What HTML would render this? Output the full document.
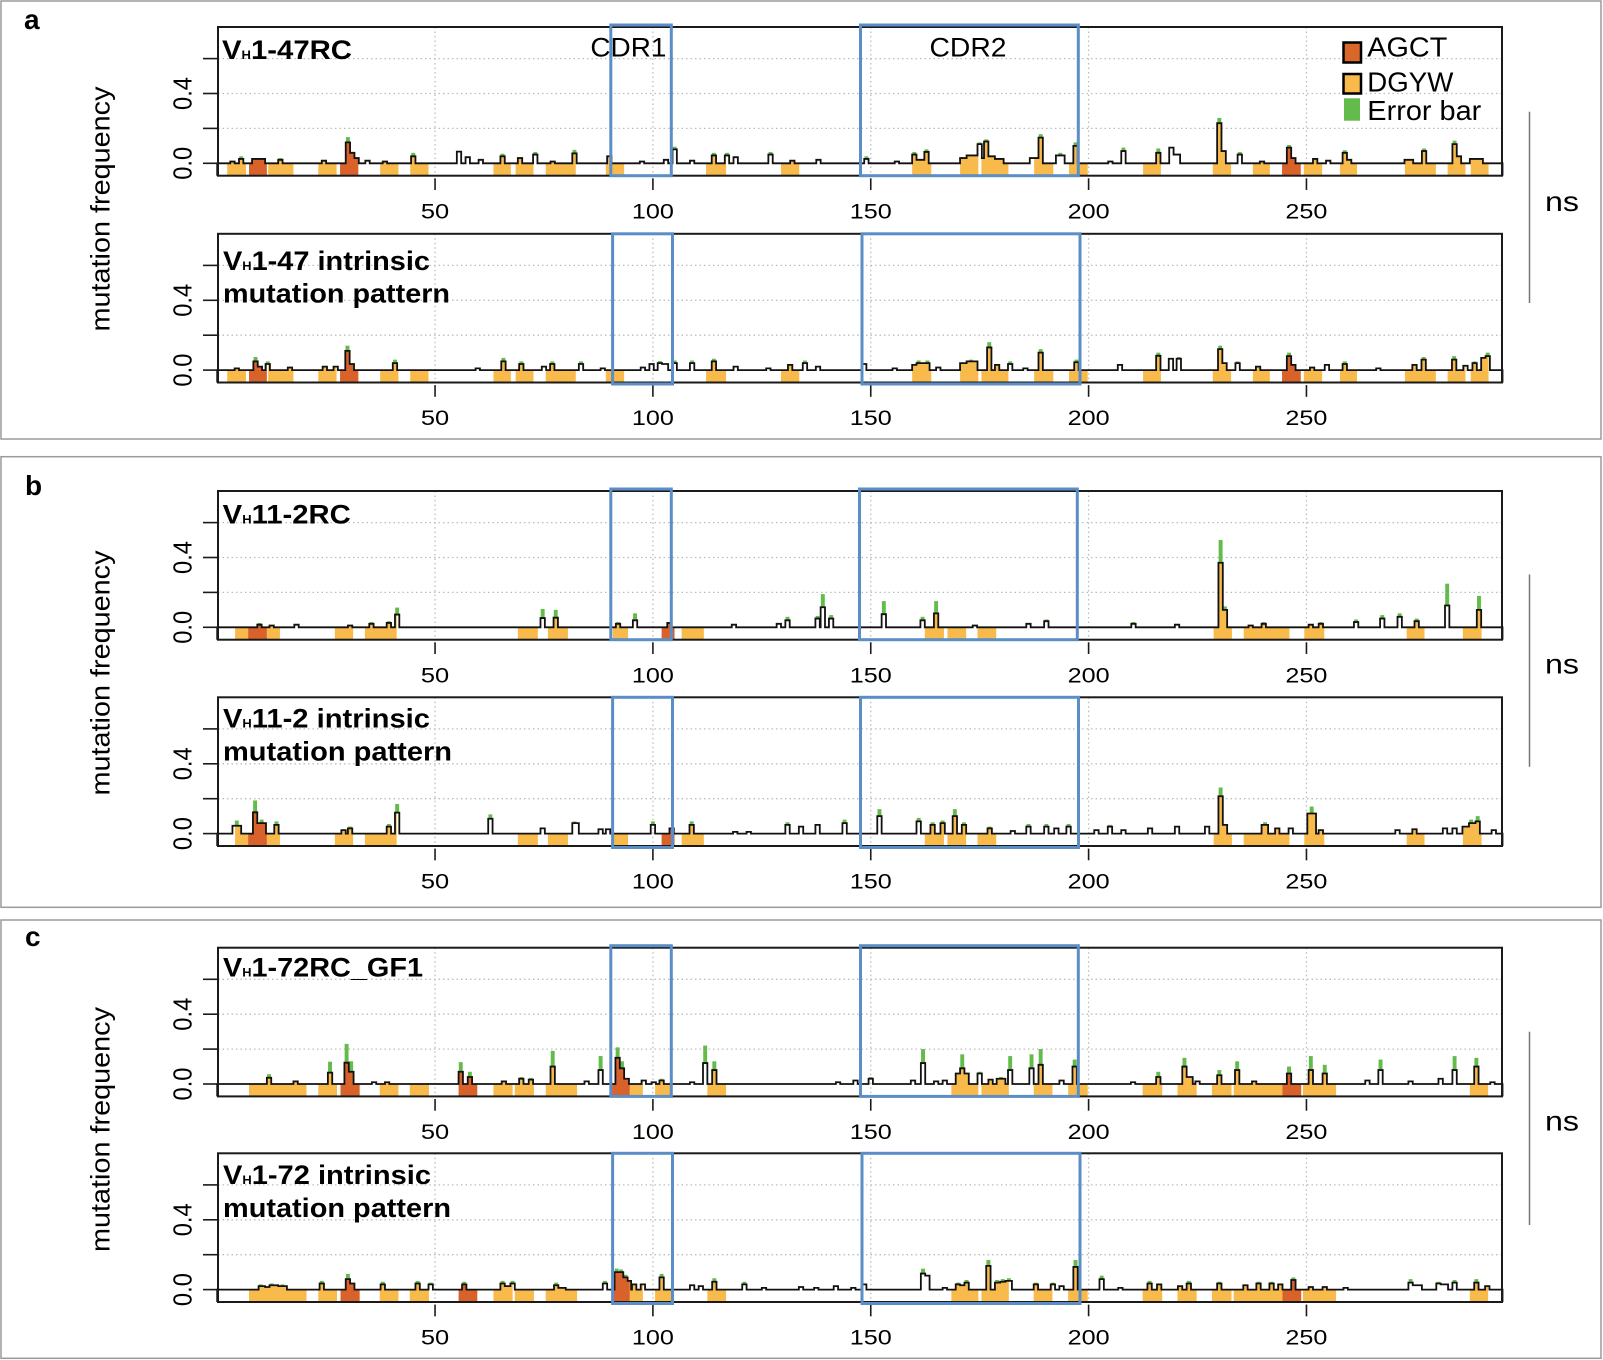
<!DOCTYPE html>
<html>
<head>
<meta charset="utf-8">
<style>
html,body{margin:0;padding:0;background:#fff;}
svg{display:block;}
text{font-family:"Liberation Sans",Arial,Helvetica,sans-serif;fill:#000;}
.tl{font-size:21.5px;}
.yl{font-size:26px;}
.tt{font-size:27px;font-weight:bold;}
.sub{font-size:12px;font-weight:bold;}
.pl{font-size:28px;font-weight:bold;}
.lg{font-size:28px;}
</style>
</head>
<body>
<svg width="1603" height="1360" viewBox="0 0 1603 1360" xmlns="http://www.w3.org/2000/svg">
<defs>
  <g id="grid" stroke="#bdbdbd" stroke-width="1.3" stroke-dasharray="1.5 3" fill="none">
    <line x1="435.05" y1="0" x2="435.05" y2="148.7"/>
    <line x1="652.9" y1="0" x2="652.9" y2="148.7"/>
    <line x1="870.75" y1="0" x2="870.75" y2="148.7"/>
    <line x1="1088.6" y1="0" x2="1088.6" y2="148.7"/>
    <line x1="1306.45" y1="0" x2="1306.45" y2="148.7"/>
    <line x1="218" y1="101.4" x2="1502" y2="101.4"/>
    <line x1="218" y1="66.5" x2="1502" y2="66.5"/>
    <line x1="218" y1="31.6" x2="1502" y2="31.6"/>
  </g>
  <g id="frame" fill="none" stroke="#1a1a1a">
    <rect x="218" y="0" width="1284" height="148.7" stroke-width="2"/>
    <g stroke-width="1.6">
      <line x1="203" y1="136.3" x2="218" y2="136.3"/>
      <line x1="203" y1="101.4" x2="218" y2="101.4"/>
      <line x1="203" y1="66.5" x2="218" y2="66.5"/>
      <line x1="203" y1="31.6" x2="218" y2="31.6"/>
      <line x1="435.05" y1="151.3" x2="435.05" y2="163"/>
      <line x1="652.9" y1="151.3" x2="652.9" y2="163"/>
      <line x1="870.75" y1="151.3" x2="870.75" y2="163"/>
      <line x1="1088.6" y1="151.3" x2="1088.6" y2="163"/>
      <line x1="1306.45" y1="151.3" x2="1306.45" y2="163"/>
    </g>
  </g>

  <clipPath id="cYa">
    <rect x="2.3" y="-0.08" width="4.3" height="1"/><rect x="11.7" y="-0.08" width="5.8" height="1"/>
    <rect x="23.2" y="-0.08" width="4.2" height="1"/><rect x="37.4" y="-0.08" width="4.2" height="1"/>
    <rect x="44.3" y="-0.08" width="4.2" height="1"/><rect x="63.4" y="-0.08" width="4" height="1"/>
    <rect x="68.5" y="-0.08" width="4.1" height="1"/><rect x="75.4" y="-0.08" width="6.9" height="1"/>
    <rect x="89.2" y="-0.08" width="4.2" height="1"/><rect x="112.2" y="-0.08" width="4.6" height="1"/>
    <rect x="129.4" y="-0.08" width="4.2" height="1"/><rect x="159.5" y="-0.08" width="4.4" height="1"/>
    <rect x="170.5" y="-0.08" width="4.2" height="1"/><rect x="175.4" y="-0.08" width="6.2" height="1"/>
    <rect x="187.5" y="-0.08" width="4.4" height="1"/><rect x="195.5" y="-0.08" width="4.3" height="1"/>
    <rect x="212.5" y="-0.08" width="4.1" height="1"/><rect x="228.5" y="-0.08" width="4.2" height="1"/>
    <rect x="237.7" y="-0.08" width="3.9" height="1"/><rect x="249.4" y="-0.08" width="4.2" height="1"/>
    <rect x="257.7" y="-0.08" width="3.9" height="1"/><rect x="272.6" y="-0.08" width="7.1" height="1"/>
    <rect x="282.4" y="-0.08" width="4.1" height="1"/><rect x="287.7" y="-0.08" width="4.1" height="1"/>
  </clipPath>
  <clipPath id="cOa">
    <rect x="7.3" y="-0.08" width="4.1" height="1"/><rect x="28.2" y="-0.08" width="4.2" height="1"/>
    <rect x="244.4" y="-0.08" width="4.3" height="1"/>
  </clipPath>
  <clipPath id="cYb">
    <rect x="4.1" y="-0.08" width="3" height="1"/><rect x="11.4" y="-0.08" width="3" height="1"/>
    <rect x="27" y="-0.08" width="4.2" height="1"/><rect x="33.9" y="-0.08" width="7.3" height="1"/>
    <rect x="69" y="-0.08" width="4.6" height="1"/><rect x="75.9" y="-0.08" width="4.6" height="1"/>
    <rect x="90.8" y="-0.08" width="3.5" height="1"/><rect x="106.6" y="-0.08" width="5.1" height="1"/>
    <rect x="162.4" y="-0.08" width="4.4" height="1"/><rect x="167.6" y="-0.08" width="4.3" height="1"/>
    <rect x="174.5" y="-0.08" width="4.3" height="1"/><rect x="228.7" y="-0.08" width="4.2" height="1"/>
    <rect x="235.6" y="-0.08" width="10.5" height="1"/><rect x="249.5" y="-0.08" width="4.6" height="1"/>
    <rect x="273" y="-0.08" width="4.1" height="1"/><rect x="285.9" y="-0.08" width="4.3" height="1"/>
  </clipPath>
  <clipPath id="cOb">
    <rect x="7.1" y="-0.08" width="4.3" height="1"/><rect x="102" y="-0.08" width="3" height="1"/>
  </clipPath>
  <clipPath id="cYc">
    <rect x="7.3" y="-0.08" width="13.2" height="1"/><rect x="23.2" y="-0.08" width="4.3" height="1"/>
    <rect x="37.3" y="-0.08" width="4.3" height="1"/><rect x="44.2" y="-0.08" width="4.4" height="1"/>
    <rect x="63.4" y="-0.08" width="4.4" height="1"/><rect x="68.3" y="-0.08" width="4.4" height="1"/>
    <rect x="75.4" y="-0.08" width="7.2" height="1"/><rect x="94.7" y="-0.08" width="3" height="1"/>
    <rect x="100.5" y="-0.08" width="3.7" height="1"/><rect x="112.5" y="-0.08" width="4.3" height="1"/>
    <rect x="168.5" y="-0.08" width="6.2" height="1"/><rect x="175.4" y="-0.08" width="6.3" height="1"/>
    <rect x="187.4" y="-0.08" width="4.3" height="1"/><rect x="195.3" y="-0.08" width="4.5" height="1"/>
    <rect x="212.4" y="-0.08" width="4.5" height="1"/><rect x="220.4" y="-0.08" width="4.4" height="1"/>
    <rect x="228.3" y="-0.08" width="4.5" height="1"/><rect x="233.3" y="-0.08" width="11.2" height="1"/>
    <rect x="249.2" y="-0.08" width="7.6" height="1"/><rect x="287.5" y="-0.08" width="4.2" height="1"/>
  </clipPath>
  <clipPath id="cOc">
    <rect x="28.3" y="-0.08" width="4.4" height="1"/><rect x="55.4" y="-0.08" width="4.3" height="1"/>
    <rect x="90.5" y="-0.08" width="4.2" height="1"/><rect x="244.5" y="-0.08" width="4.3" height="1"/>
  </clipPath>

  <path id="pA1" vector-effect="non-scaling-stroke" d="M0 -.0711 V0 H3 V.01 H4 V0 H5 V.025 H6 V0 H8 V.025 H11 V0 H14 V.02 H15 V0 H24 V.015 H25 V0 H29.5 V.12 H30.5 V.06 H31.5 V.03 H32.5 V0 H34 V.015 H35 V0 H38 V.01 H39 V0 H44.5 V.04 H45.5 V0 H55 V.067 H56 V0 H57 V.035 H58 V0 H60 V.02 H61 V0 H65 V.04 H66 V0 H69 V.03 H70 V0 H72.5 V.05 H73.5 V0 H76.5 V.01 H77.5 V0 H81.5 V.057 H82.5 V0 H89.5 V.04 H90.5 V0 H97 V.01 H98 V0 H102.5 V.02 H103.5 V0 H104.5 V.08 H105.5 V0 H108.5 V.015 H109.5 V0 H113.5 V.045 H114.5 V0 H116.5 V.045 H117.5 V0 H118.5 V.035 H119.5 V0 H126.5 V.05 H127.5 V0 H131.5 V.015 H132.5 V0 H137.5 V.02 H138.5 V0 H148.5 V.025 H149.5 V0 H155.5 V.01 H156.5 V0 H159.5 V.05 H160.5 V.02 H162.3 V.065 H163.3 V0 H170.5 V.03 H172 V.045 H174.5 V.11 H175.5 V.03 H176 V.125 H177 V.04 H178.5 V.025 H180.5 V0 H186.5 V.03 H188.5 V.147 H189.5 V0 H192.5 V.045 H194.5 V0 H196.5 V.1 H197.5 V0 H204.5 V.01 H205.5 V0 H207.5 V.07 H208.5 V0 H215.5 V.06 H216.5 V0 H218.5 V.09 H219.5 V.05 H221 V0 H229.5 V.23 H230.5 V.07 H231.5 V0 H234.2 V.05 H235.2 V0 H239.3 V.01 H240.3 V0 H245.5 V.09 H246.5 V.03 H247.5 V0 H251.5 V.025 H252.5 V0 H254.5 V.015 H255.5 V0 H258.3 V.06 H259.3 V.02 H260.3 V0 H272.5 V.02 H274.5 V0 H276.5 V.07 H277.5 V0 H283.5 V.11 H284.5 V.04 H285.5 V0 H287.5 V.025 H290.5 V0 H295 V-.0711"/>
  <path id="pA2" vector-effect="non-scaling-stroke" d="M0 -.0711 V0 H4 V.01 H5 V0 H8.3 V.05 H9.3 V.02 H10.3 V0 H11.1 V.035 H12.1 V0 H16.2 V.015 H17.2 V0 H24.2 V.02 H25.2 V0 H26.7 V.02 H27.7 V0 H29.4 V.11 H30.4 V.035 H31.4 V0 H40.3 V.04 H41.3 V0 H59.3 V.01 H60.3 V0 H65.2 V.05 H66.2 V0 H69.3 V.035 H70.3 V0 H74.5 V.02 H75.5 V0 H76.4 V.035 H77.4 V0 H83 V.035 H84 V0 H88 V.01 H89 V0 H97.2 V.015 H98.2 V0 H99.2 V.035 H100.2 V0 H101.1 V.04 H102.1 V.035 H103.5 V0 H104.5 V.04 H105.5 V0 H108.5 V.04 H109.5 V0 H113.5 V.05 H114.5 V0 H118.5 V.02 H119.5 V0 H126 V.01 H127 V0 H131 V.03 H132 V0 H134.4 V.04 H135.4 V0 H137.4 V.02 H138.4 V0 H148 V.035 H149 V0 H155 V.01 H156 V0 H159.5 V.03 H160.5 V.04 H163.5 V0 H165 V.015 H166 V0 H170.5 V.04 H172 V.05 H174.5 V0 H176.7 V.13 H177.7 V0 H178.5 V.03 H179.5 V0 H181.5 V.035 H182.5 V0 H185 V.01 H186 V0 H188.5 V.1 H189.5 V0 H196.7 V.045 H197.7 V0 H206.7 V.03 H207.7 V0 H215.5 V.082 H216.5 V0 H218.4 V.065 H219.4 V0 H220.2 V.065 H221.2 V0 H229.7 V.12 H230.7 V.04 H231.7 V0 H233.7 V.04 H234.7 V0 H238.4 V.02 H239.4 V0 H245.5 V.08 H246.5 V.03 H247.5 V0 H250.8 V.015 H251.8 V0 H254.2 V.03 H255.2 V0 H258.3 V.035 H259.3 V0 H266 V.01 H267 V0 H274.3 V.03 H275.3 V0 H276.4 V.06 H277.4 V0 H283.4 V.06 H284.4 V0 H286 V.025 H287 V0 H288.1 V.04 H289.1 V0 H290.1 V.07 H291.1 V.08 H292.1 V0 H295 V-.0711"/>
  <path id="pB1" vector-effect="non-scaling-stroke" d="M0 -.0711 V0 H9.2 V.015 H10.2 V0 H12 V.01 H13 V0 H17.7 V.015 H18.7 V0 H30 V.01 H31 V0 H34.9 V.02 H35.9 V0 H38.9 V.025 H39.9 V0 H40.8 V.073 H41.8 V0 H74.2 V.053 H75.2 V0 H77.2 V.055 H78.2 V0 H91.5 V.02 H92.5 V0 H95.4 V.04 H96.4 V0 H103.3 V.025 H104.3 V0 H118.1 V.015 H119.1 V0 H128.4 V.02 H129.4 V0 H130.4 V.04 H131.4 V0 H137.3 V.05 H138.3 V0 H138.5 V.115 H139.5 V0 H140.4 V.05 H141.4 V0 H152.5 V.075 H153.5 V0 H161.4 V.04 H162.4 V0 H164.5 V.08 H165.5 V0 H173.4 V.01 H174.4 V0 H185.7 V.02 H186.7 V0 H189.8 V.035 H190.8 V0 H209.8 V.02 H210.8 V0 H219.8 V.015 H220.8 V0 H229.8 V.37 H230.8 V.1 H231.8 V0 H236.7 V.01 H237.7 V0 H239.7 V.02 H240.7 V0 H250.5 V.015 H251.5 V0 H252.8 V.02 H253.8 V0 H260.9 V.03 H261.9 V0 H266.9 V.05 H267.9 V0 H270.9 V.06 H271.9 V0 H274.8 V.035 H275.8 V0 H281.8 V.125 H282.8 V0 H289.1 V.1 H290.1 V0 H295 V-.0711"/>
  <path id="pB2" vector-effect="non-scaling-stroke" d="M0 -.0711 V0 H3.5 V.045 H5.5 V0 H8.2 V.122 H9.2 V.06 H11.2 V0 H13.1 V.05 H14.1 V0 H28.5 V.02 H29.5 V0 H30 V.03 H31 V0 H38.9 V.04 H39.9 V0 H40.8 V.12 H41.8 V0 H62.2 V.085 H63.2 V0 H74.2 V.03 H75.2 V0 H81.5 V.06 H83 V0 H87.5 V.025 H88.5 V0 H89.2 V.025 H90.2 V0 H99.5 V.05 H100.5 V0 H103.8 V.03 H104.8 V0 H108.4 V.05 H109.4 V0 H118.4 V.01 H119.4 V0 H121.5 V.01 H122.5 V0 H130.4 V.05 H131.4 V0 H133.5 V.04 H134.5 V0 H137.3 V.05 H138.3 V0 H143.5 V.06 H144.5 V0 H151.5 V.1 H152.5 V0 H160.5 V.07 H161.5 V0 H163.7 V.05 H164.7 V0 H166 V.06 H167 V0 H168.8 V.1 H169.8 V0 H170.9 V.05 H171.9 V0 H176.8 V.03 H177.8 V0 H182.1 V.015 H183.1 V0 H185.7 V.04 H186.7 V0 H189.8 V.04 H190.8 V0 H192.1 V.03 H193.1 V0 H194.9 V.04 H195.9 V0 H201.3 V.02 H202.3 V0 H204.4 V.04 H205.4 V0 H207.5 V.02 H208.5 V0 H213.6 V.03 H214.6 V0 H219.8 V.04 H220.8 V0 H226.7 V.04 H227.7 V0 H229.8 V.214 H230.8 V.05 H231.8 V0 H239.7 V.05 H241.2 V0 H242.8 V.03 H243.8 V0 H245.9 V.03 H246.9 V0 H250.2 V.115 H252.2 V0 H252.8 V.02 H253.8 V0 H270.4 V.02 H271.4 V0 H274.3 V.025 H275.3 V0 H281.3 V.03 H282.3 V0 H283.5 V.03 H284.5 V0 H285.8 V.04 H287.3 V.06 H288.8 V.07 H289.8 V0 H292.5 V.02 H293.5 V0 H295 V-.0711"/>
  <path id="pC1" vector-effect="non-scaling-stroke" d="M0 -.0711 V0 H11.4 V.036 H12.4 V0 H17.5 V.015 H18.5 V0 H25.4 V.065 H26.4 V0 H29.2 V.122 H30.2 V.07 H31.3 V0 H35.5 V.01 H36.5 V0 H38.5 V.01 H39.5 V0 H55.4 V.07 H56.4 V0 H57.5 V.04 H58.5 V0 H65.3 V.015 H66.3 V0 H69.3 V.03 H70.3 V0 H71.5 V.025 H72.5 V0 H76.5 V.1 H77.5 V0 H84.3 V.015 H85.3 V0 H87.5 V.08 H88.5 V0 H91.4 V.15 H92.4 V.09 H93.4 V.03 H94.5 V0 H97.4 V.02 H98.4 V0 H99.7 V.01 H100.7 V0 H101.5 V.02 H102.5 V0 H108.5 V.01 H109.5 V0 H111.5 V.12 H112.5 V0 H113.6 V.08 H114.6 V0 H142 V.01 H143 V0 H146 V.02 H147 V0 H149.5 V.03 H150.5 V0 H159.2 V.02 H160.2 V0 H161.5 V.12 H162.5 V0 H164.5 V.015 H165.5 V0 H166.5 V.02 H167.5 V0 H169.5 V.06 H170.5 V.09 H171.5 V.06 H172.5 V0 H174.5 V.06 H175.5 V0 H177 V.025 H178 V0 H178.9 V.03 H180.9 V0 H181.5 V.08 H182.5 V0 H186.4 V.09 H187.4 V0 H188.5 V.11 H189.5 V0 H193.3 V.02 H194.3 V0 H196.3 V.1 H197.3 V0 H209.7 V.01 H210.7 V0 H215.5 V.04 H216.5 V0 H221.5 V.1 H222.5 V.04 H223.9 V0 H224.5 V.015 H225.5 V0 H229.5 V.05 H230.5 V0 H233.6 V.08 H234.6 V0 H237.5 V.015 H238.5 V0 H245.5 V.06 H246.5 V0 H250.5 V.08 H251.5 V0 H253.7 V.06 H254.7 V0 H263.5 V.02 H264.5 V0 H266.5 V.08 H267.5 V0 H273.4 V.015 H274.4 V0 H280.3 V.03 H281.3 V0 H283.5 V.08 H284.5 V0 H288.5 V.1 H289.5 V0 H292.2 V.01 H293.2 V0 H295 V-.0711"/>
  <path id="pC2" vector-effect="non-scaling-stroke" d="M0 -.0711 V0 H9.5 V.02 H11 V.015 H12 V.025 H14 V.02 H16 V0 H23.5 V.035 H24.5 V0 H29.5 V.06 H30.5 V.035 H31.5 V0 H37.5 V.03 H38.5 V0 H45.5 V.035 H46.5 V0 H48.5 V.03 H49.5 V0 H56.2 V.03 H57.2 V0 H65 V.035 H66 V.02 H67.3 V.035 H68.3 V0 H77.3 V.025 H78.3 V.01 H80 V0 H88.5 V.035 H89.5 V0 H91.2 V.1 H93.2 V.07 H94.2 V.05 H95 V0 H95.2 V.03 H96.2 V0 H97.2 V.03 H98.2 V0 H101.5 V.07 H102.5 V0 H108.5 V.025 H109.5 V0 H110.5 V.02 H111.5 V0 H113.6 V.045 H114.6 V0 H120.5 V.03 H121.5 V0 H125 V.01 H126 V0 H133.5 V.015 H134.5 V0 H137 V.01 H138 V0 H141.5 V.02 H142.5 V0 H145.5 V.01 H146.5 V0 H148 V.03 H149 V0 H161.5 V.092 H162.5 V.08 H163.5 V0 H166.5 V.01 H167.5 V0 H169.5 V.03 H170.5 V.025 H171.5 V.04 H172.5 V0 H176.5 V.136 H177.5 V0 H178.5 V.04 H179.7 V.045 H180.9 V.05 H182.4 V0 H187.4 V.03 H188.4 V0 H191.3 V.03 H192.3 V0 H193.3 V.02 H194.3 V0 H196.5 V.13 H197.5 V0 H202.5 V.06 H203.5 V0 H206.8 V.01 H207.8 V0 H213.5 V.035 H214.5 V0 H215.7 V.03 H216.7 V0 H220.5 V.02 H221.5 V0 H222.5 V.035 H223.5 V0 H229.5 V.035 H230.5 V0 H235.5 V.025 H236.5 V0 H238.5 V.035 H239.5 V0 H241.5 V.035 H242.5 V0 H243.5 V.03 H244.5 V0 H246.5 V.055 H247.5 V0 H250.5 V.015 H251.5 V0 H253.7 V.015 H254.7 V0 H258.5 V.01 H259.5 V0 H273.4 V.04 H274.4 V.025 H276.5 V0 H279.8 V.035 H280.8 V.03 H282.5 V0 H283.5 V.04 H284.5 V0 H288.5 V.04 H289.5 V0 H291 V.02 H292 V0 H295 V-.0711"/>
</defs>

<rect x="0" y="0" width="1603" height="1360" fill="#fff"/>

<g fill="none" stroke="#9a9a9a" stroke-width="1.5">
  <rect x="1" y="1" width="1600" height="438"/>
  <rect x="1" y="456.7" width="1600" height="450.6"/>
  <rect x="1" y="920" width="1600" height="438.3"/>
</g>

<text class="pl" x="24" y="29">a</text>
<text class="pl" x="25" y="495">b</text>
<text class="pl" x="25" y="946">c</text>

<text transform="translate(109.5 209) rotate(-90)" text-anchor="middle" font-size="27" textLength="245" lengthAdjust="spacingAndGlyphs">mutation frequency</text>
<text transform="translate(109.5 673) rotate(-90)" text-anchor="middle" font-size="27" textLength="245" lengthAdjust="spacingAndGlyphs">mutation frequency</text>
<text transform="translate(109.5 1129.5) rotate(-90)" text-anchor="middle" font-size="27" textLength="245" lengthAdjust="spacingAndGlyphs">mutation frequency</text>

<use href="#grid" y="27"/>
<use href="#grid" y="233.8"/>
<use href="#grid" y="491"/>
<use href="#grid" y="697.3"/>
<use href="#grid" y="947.7"/>
<use href="#grid" y="1153.3"/>

<!-- A1 -->
<g transform="translate(217.2 163.3) scale(4.357 -174.5)">
  <use href="#pA1" fill="#f8bb4b" clip-path="url(#cYa)"/>
  <use href="#pA1" fill="#d9622b" clip-path="url(#cOa)"/>
  <g fill="#62bb4a">
    <rect x="5.05" y=".025" width=".9" height=".015"/><rect x="14.05" y=".02" width=".9" height=".01"/>
    <rect x="29.55" y=".12" width=".9" height=".03"/><rect x="44.55" y=".04" width=".9" height=".02"/>
    <rect x="65.05" y=".04" width=".9" height=".015"/><rect x="72.55" y=".05" width=".9" height=".015"/>
    <rect x="81.55" y=".057" width=".9" height=".02"/><rect x="104.55" y=".08" width=".9" height=".015"/>
    <rect x="113.55" y=".045" width=".9" height=".015"/><rect x="116.55" y=".045" width=".9" height=".015"/>
    <rect x="126.55" y=".05" width=".9" height=".015"/><rect x="148.55" y=".025" width=".9" height=".015"/>
    <rect x="159.55" y=".05" width=".9" height=".015"/><rect x="162.35" y=".065" width=".9" height=".015"/>
    <rect x="174.55" y=".11" width=".9" height=".01"/><rect x="176.05" y=".125" width=".9" height=".012"/>
    <rect x="188.55" y=".147" width=".9" height=".02"/><rect x="193.05" y=".045" width=".9" height=".015"/>
    <rect x="196.55" y=".1" width=".9" height=".02"/><rect x="207.55" y=".07" width=".9" height=".02"/>
    <rect x="215.55" y=".06" width=".9" height=".025"/><rect x="229.55" y=".23" width=".9" height=".03"/>
    <rect x="234.25" y=".05" width=".9" height=".015"/><rect x="245.55" y=".09" width=".9" height=".015"/>
    <rect x="258.35" y=".06" width=".9" height=".015"/><rect x="276.55" y=".07" width=".9" height=".015"/>
    <rect x="283.55" y=".11" width=".9" height=".02"/>
  </g>
  <use href="#pA1" fill="none" stroke="#111" stroke-width="1.8"/>
</g>
<use href="#frame" y="27"/>
<rect x="610.8" y="25" width="60.5" height="150.7" fill="none" stroke="#5b8ec6" stroke-width="3"/>
<rect x="860.5" y="25" width="217.8" height="150.7" fill="none" stroke="#5b8ec6" stroke-width="3"/>
<text class="tt" x="222" y="58.8" textLength="130" lengthAdjust="spacingAndGlyphs">V<tspan class="sub">H</tspan>1-47RC</text>
<text x="628.4" y="56.7" text-anchor="middle" font-size="27" textLength="76" lengthAdjust="spacingAndGlyphs">CDR1</text>
<text x="968" y="56.7" text-anchor="middle" font-size="27" textLength="77" lengthAdjust="spacingAndGlyphs">CDR2</text>
<rect x="1343.5" y="42.5" width="17.5" height="20" fill="#d9672a" stroke="#000" stroke-width="2.5"/>
<rect x="1343.5" y="74" width="17.5" height="19.5" fill="#f8bb4b" stroke="#000" stroke-width="2.5"/>
<rect x="1344" y="98.3" width="16" height="22.4" fill="#62bb4a"/>
<text class="lg" x="1367.3" y="56.7" textLength="80" lengthAdjust="spacingAndGlyphs">AGCT</text>
<text class="lg" x="1367.3" y="91.7" textLength="86" lengthAdjust="spacingAndGlyphs">DGYW</text>
<text class="lg" x="1367.3" y="120" textLength="114" lengthAdjust="spacingAndGlyphs">Error bar</text>
<text class="yl" transform="translate(191.7 163.3) rotate(-90)" text-anchor="middle" textLength="33" lengthAdjust="spacingAndGlyphs">0.0</text>
<text class="yl" transform="translate(191.7 93.5) rotate(-90)" text-anchor="middle" textLength="33" lengthAdjust="spacingAndGlyphs">0.4</text>
<g class="tl" text-anchor="middle">
  <text x="435.05" y="218.6" textLength="28.3" lengthAdjust="spacingAndGlyphs">50</text>
  <text x="652.9" y="218.6" textLength="42" lengthAdjust="spacingAndGlyphs">100</text>
  <text x="870.75" y="218.6" textLength="42" lengthAdjust="spacingAndGlyphs">150</text>
  <text x="1088.6" y="218.6" textLength="42" lengthAdjust="spacingAndGlyphs">200</text>
  <text x="1306.45" y="218.6" textLength="42" lengthAdjust="spacingAndGlyphs">250</text>
</g>

<!-- A2 -->
<g transform="translate(217.2 370.1) scale(4.357 -174.5)">
  <use href="#pA2" fill="#f8bb4b" clip-path="url(#cYa)"/>
  <use href="#pA2" fill="#d9622b" clip-path="url(#cOa)"/>
  <g fill="#62bb4a">
    <rect x="8.35" y=".05" width=".9" height=".025"/><rect x="11.15" y=".035" width=".9" height=".015"/>
    <rect x="29.45" y=".11" width=".9" height=".03"/><rect x="40.35" y=".04" width=".9" height=".02"/>
    <rect x="65.25" y=".05" width=".9" height=".02"/><rect x="69.35" y=".035" width=".9" height=".015"/>
    <rect x="76.45" y=".035" width=".9" height=".015"/><rect x="83.05" y=".035" width=".9" height=".015"/>
    <rect x="101.15" y=".04" width=".9" height=".012"/><rect x="104.55" y=".04" width=".9" height=".015"/>
    <rect x="108.55" y=".04" width=".9" height=".015"/><rect x="113.55" y=".05" width=".9" height=".015"/>
    <rect x="134.45" y=".04" width=".9" height=".015"/><rect x="160.55" y=".04" width=".9" height=".015"/>
    <rect x="162.55" y=".04" width=".9" height=".015"/><rect x="172.55" y=".05" width=".9" height=".01"/>
    <rect x="176.75" y=".13" width=".9" height=".03"/><rect x="181.55" y=".035" width=".9" height=".015"/>
    <rect x="188.55" y=".1" width=".9" height=".02"/><rect x="196.75" y=".045" width=".9" height=".015"/>
    <rect x="215.55" y=".082" width=".9" height=".018"/><rect x="220.25" y=".065" width=".9" height=".01"/>
    <rect x="229.75" y=".12" width=".9" height=".02"/><rect x="233.75" y=".04" width=".9" height=".01"/>
    <rect x="245.55" y=".08" width=".9" height=".02"/><rect x="258.35" y=".035" width=".9" height=".015"/>
    <rect x="276.45" y=".06" width=".9" height=".015"/><rect x="283.45" y=".06" width=".9" height=".02"/>
    <rect x="288.15" y=".04" width=".9" height=".01"/><rect x="291.15" y=".08" width=".9" height=".02"/>
  </g>
  <use href="#pA2" fill="none" stroke="#111" stroke-width="1.8"/>
</g>
<use href="#frame" y="233.8"/>
<rect x="612.6" y="233.8" width="59.9" height="150.2" fill="none" stroke="#5b8ec6" stroke-width="3"/>
<rect x="862" y="233.8" width="218" height="150.2" fill="none" stroke="#5b8ec6" stroke-width="3"/>
<text class="tt" x="223" y="269.8" textLength="207" lengthAdjust="spacingAndGlyphs">V<tspan class="sub">H</tspan>1-47 intrinsic</text>
<text class="tt" x="223" y="302.5" textLength="227" lengthAdjust="spacingAndGlyphs">mutation pattern</text>
<text class="yl" transform="translate(191.7 370.1) rotate(-90)" text-anchor="middle" textLength="33" lengthAdjust="spacingAndGlyphs">0.0</text>
<text class="yl" transform="translate(191.7 300.3) rotate(-90)" text-anchor="middle" textLength="33" lengthAdjust="spacingAndGlyphs">0.4</text>
<g class="tl" text-anchor="middle">
  <text x="435.05" y="425.1" textLength="28.3" lengthAdjust="spacingAndGlyphs">50</text>
  <text x="652.9" y="425.1" textLength="42" lengthAdjust="spacingAndGlyphs">100</text>
  <text x="870.75" y="425.1" textLength="42" lengthAdjust="spacingAndGlyphs">150</text>
  <text x="1088.6" y="425.1" textLength="42" lengthAdjust="spacingAndGlyphs">200</text>
  <text x="1306.45" y="425.1" textLength="42" lengthAdjust="spacingAndGlyphs">250</text>
</g>
<line x1="1529.5" y1="111.7" x2="1529.5" y2="303" stroke="#777" stroke-width="1.5"/>
<text x="1545" y="211" font-size="28" textLength="34" lengthAdjust="spacingAndGlyphs">ns</text>

<!-- B1 -->
<g transform="translate(217.2 627.3) scale(4.357 -174.5)">
  <use href="#pB1" fill="#f8bb4b" clip-path="url(#cYb)"/>
  <use href="#pB1" fill="#d9622b" clip-path="url(#cOb)"/>
  <g fill="#62bb4a">
    <rect x="9.25" y=".015" width=".9" height=".01"/><rect x="34.95" y=".02" width=".9" height=".01"/>
    <rect x="38.95" y=".025" width=".9" height=".01"/><rect x="40.85" y=".073" width=".9" height=".04"/>
    <rect x="74.25" y=".053" width=".9" height=".052"/><rect x="77.25" y=".055" width=".9" height=".045"/>
    <rect x="91.55" y=".02" width=".9" height=".01"/><rect x="95.45" y=".04" width=".9" height=".04"/>
    <rect x="130.45" y=".04" width=".9" height=".02"/><rect x="137.35" y=".05" width=".9" height=".015"/>
    <rect x="138.55" y=".115" width=".9" height=".075"/><rect x="140.45" y=".05" width=".9" height=".02"/>
    <rect x="152.55" y=".075" width=".9" height=".075"/><rect x="161.45" y=".04" width=".9" height=".02"/>
    <rect x="164.55" y=".08" width=".9" height=".07"/><rect x="189.85" y=".035" width=".9" height=".01"/>
    <rect x="209.85" y=".02" width=".9" height=".01"/><rect x="229.85" y=".37" width=".9" height=".13"/>
    <rect x="230.85" y=".1" width=".9" height=".02"/><rect x="239.75" y=".02" width=".9" height=".01"/>
    <rect x="252.85" y=".02" width=".9" height=".01"/><rect x="260.95" y=".03" width=".9" height=".015"/>
    <rect x="266.95" y=".05" width=".9" height=".02"/><rect x="270.95" y=".06" width=".9" height=".02"/>
    <rect x="274.85" y=".035" width=".9" height=".015"/><rect x="281.85" y=".125" width=".9" height=".125"/>
    <rect x="289.15" y=".1" width=".9" height=".08"/>
  </g>
  <use href="#pB1" fill="none" stroke="#111" stroke-width="1.8"/>
</g>
<use href="#frame" y="491"/>
<rect x="610.8" y="489" width="60.5" height="150.7" fill="none" stroke="#5b8ec6" stroke-width="3"/>
<rect x="859.5" y="489" width="217.8" height="150.7" fill="none" stroke="#5b8ec6" stroke-width="3"/>
<text class="tt" x="222.7" y="523.3" textLength="128" lengthAdjust="spacingAndGlyphs">V<tspan class="sub">H</tspan>11-2RC</text>
<text class="yl" transform="translate(191.7 627.3) rotate(-90)" text-anchor="middle" textLength="33" lengthAdjust="spacingAndGlyphs">0.0</text>
<text class="yl" transform="translate(191.7 557.5) rotate(-90)" text-anchor="middle" textLength="33" lengthAdjust="spacingAndGlyphs">0.4</text>
<g class="tl" text-anchor="middle">
  <text x="435.05" y="682.3" textLength="28.3" lengthAdjust="spacingAndGlyphs">50</text>
  <text x="652.9" y="682.3" textLength="42" lengthAdjust="spacingAndGlyphs">100</text>
  <text x="870.75" y="682.3" textLength="42" lengthAdjust="spacingAndGlyphs">150</text>
  <text x="1088.6" y="682.3" textLength="42" lengthAdjust="spacingAndGlyphs">200</text>
  <text x="1306.45" y="682.3" textLength="42" lengthAdjust="spacingAndGlyphs">250</text>
</g>

<!-- B2 -->
<g transform="translate(217.2 833.6) scale(4.357 -174.5)">
  <use href="#pB2" fill="#f8bb4b" clip-path="url(#cYb)"/>
  <use href="#pB2" fill="#d9622b" clip-path="url(#cOb)"/>
  <g fill="#62bb4a">
    <rect x="4.05" y=".045" width=".9" height=".03"/><rect x="8.25" y=".122" width=".9" height=".068"/>
    <rect x="9.75" y=".06" width=".9" height=".02"/><rect x="13.15" y=".05" width=".9" height=".02"/>
    <rect x="30.05" y=".03" width=".9" height=".01"/><rect x="38.95" y=".04" width=".9" height=".015"/>
    <rect x="40.85" y=".12" width=".9" height=".05"/><rect x="62.25" y=".085" width=".9" height=".025"/>
    <rect x="81.55" y=".06" width=".9" height=".01"/><rect x="99.55" y=".05" width=".9" height=".02"/>
    <rect x="108.45" y=".05" width=".9" height=".02"/><rect x="130.45" y=".05" width=".9" height=".015"/>
    <rect x="143.55" y=".06" width=".9" height=".02"/><rect x="151.55" y=".1" width=".9" height=".04"/>
    <rect x="160.55" y=".07" width=".9" height=".02"/><rect x="163.75" y=".05" width=".9" height=".015"/>
    <rect x="166.05" y=".06" width=".9" height=".015"/><rect x="168.85" y=".1" width=".9" height=".04"/>
    <rect x="170.95" y=".05" width=".9" height=".015"/><rect x="176.85" y=".03" width=".9" height=".01"/>
    <rect x="185.75" y=".04" width=".9" height=".015"/><rect x="189.85" y=".04" width=".9" height=".015"/>
    <rect x="194.95" y=".04" width=".9" height=".015"/><rect x="204.45" y=".04" width=".9" height=".01"/>
    <rect x="229.85" y=".214" width=".9" height=".05"/><rect x="240.05" y=".05" width=".9" height=".015"/>
    <rect x="250.75" y=".115" width=".9" height=".04"/><rect x="287.35" y=".06" width=".9" height=".02"/>
    <rect x="288.85" y=".07" width=".9" height=".03"/>
  </g>
  <use href="#pB2" fill="none" stroke="#111" stroke-width="1.8"/>
</g>
<use href="#frame" y="697.3"/>
<rect x="612.6" y="697.3" width="59.9" height="150.2" fill="none" stroke="#5b8ec6" stroke-width="3"/>
<rect x="860.5" y="697.3" width="218" height="150.2" fill="none" stroke="#5b8ec6" stroke-width="3"/>
<text class="tt" x="223" y="727.3" textLength="207" lengthAdjust="spacingAndGlyphs">V<tspan class="sub">H</tspan>11-2 intrinsic</text>
<text class="tt" x="223" y="760.5" textLength="229" lengthAdjust="spacingAndGlyphs">mutation pattern</text>
<text class="yl" transform="translate(191.7 833.6) rotate(-90)" text-anchor="middle" textLength="33" lengthAdjust="spacingAndGlyphs">0.0</text>
<text class="yl" transform="translate(191.7 763.8) rotate(-90)" text-anchor="middle" textLength="33" lengthAdjust="spacingAndGlyphs">0.4</text>
<g class="tl" text-anchor="middle">
  <text x="435.05" y="888.6" textLength="28.3" lengthAdjust="spacingAndGlyphs">50</text>
  <text x="652.9" y="888.6" textLength="42" lengthAdjust="spacingAndGlyphs">100</text>
  <text x="870.75" y="888.6" textLength="42" lengthAdjust="spacingAndGlyphs">150</text>
  <text x="1088.6" y="888.6" textLength="42" lengthAdjust="spacingAndGlyphs">200</text>
  <text x="1306.45" y="888.6" textLength="42" lengthAdjust="spacingAndGlyphs">250</text>
</g>
<line x1="1529.5" y1="574.5" x2="1529.5" y2="766.7" stroke="#777" stroke-width="1.5"/>
<text x="1545" y="673.5" font-size="28" textLength="34" lengthAdjust="spacingAndGlyphs">ns</text>

<!-- C1 -->
<g transform="translate(217.2 1084) scale(4.357 -174.5)">
  <use href="#pC1" fill="#f8bb4b" clip-path="url(#cYc)"/>
  <use href="#pC1" fill="#d9622b" clip-path="url(#cOc)"/>
  <g fill="#62bb4a">
    <rect x="11.45" y=".036" width=".9" height=".02"/><rect x="25.45" y=".065" width=".9" height=".063"/>
    <rect x="29.25" y=".122" width=".9" height=".108"/><rect x="30.3" y=".07" width=".9" height=".06"/>
    <rect x="55.45" y=".07" width=".9" height=".055"/><rect x="57.55" y=".04" width=".9" height=".03"/>
    <rect x="69.35" y=".03" width=".9" height=".01"/><rect x="71.55" y=".025" width=".9" height=".01"/>
    <rect x="76.55" y=".1" width=".9" height=".09"/><rect x="87.55" y=".08" width=".9" height=".08"/>
    <rect x="91.45" y=".15" width=".9" height=".06"/><rect x="92.45" y=".09" width=".9" height=".04"/>
    <rect x="101.55" y=".02" width=".9" height=".01"/><rect x="111.55" y=".12" width=".9" height=".1"/>
    <rect x="113.65" y=".08" width=".9" height=".05"/><rect x="149.55" y=".03" width=".9" height=".01"/>
    <rect x="161.55" y=".12" width=".9" height=".08"/><rect x="170.55" y=".09" width=".9" height=".08"/>
    <rect x="174.55" y=".06" width=".9" height=".01"/><rect x="179.45" y=".03" width=".9" height=".01"/>
    <rect x="181.55" y=".08" width=".9" height=".08"/><rect x="186.45" y=".09" width=".9" height=".08"/>
    <rect x="188.55" y=".11" width=".9" height=".09"/><rect x="196.35" y=".1" width=".9" height=".04"/>
    <rect x="215.55" y=".04" width=".9" height=".03"/><rect x="221.55" y=".1" width=".9" height=".05"/>
    <rect x="229.55" y=".05" width=".9" height=".03"/><rect x="233.65" y=".08" width=".9" height=".05"/>
    <rect x="245.55" y=".06" width=".9" height=".04"/><rect x="250.55" y=".08" width=".9" height=".08"/>
    <rect x="253.75" y=".06" width=".9" height=".05"/><rect x="266.55" y=".08" width=".9" height=".06"/>
    <rect x="283.55" y=".08" width=".9" height=".08"/><rect x="288.55" y=".1" width=".9" height=".05"/>
  </g>
  <use href="#pC1" fill="none" stroke="#111" stroke-width="1.8"/>
</g>
<use href="#frame" y="947.7"/>
<rect x="610.8" y="945.7" width="60.5" height="150.7" fill="none" stroke="#5b8ec6" stroke-width="3"/>
<rect x="860.5" y="945.7" width="217.8" height="150.7" fill="none" stroke="#5b8ec6" stroke-width="3"/>
<text class="tt" x="223" y="976.7" textLength="200" lengthAdjust="spacingAndGlyphs">V<tspan class="sub">H</tspan>1-72RC_GF1</text>
<text class="yl" transform="translate(191.7 1084) rotate(-90)" text-anchor="middle" textLength="33" lengthAdjust="spacingAndGlyphs">0.0</text>
<text class="yl" transform="translate(191.7 1014.2) rotate(-90)" text-anchor="middle" textLength="33" lengthAdjust="spacingAndGlyphs">0.4</text>
<g class="tl" text-anchor="middle">
  <text x="435.05" y="1139" textLength="28.3" lengthAdjust="spacingAndGlyphs">50</text>
  <text x="652.9" y="1139" textLength="42" lengthAdjust="spacingAndGlyphs">100</text>
  <text x="870.75" y="1139" textLength="42" lengthAdjust="spacingAndGlyphs">150</text>
  <text x="1088.6" y="1139" textLength="42" lengthAdjust="spacingAndGlyphs">200</text>
  <text x="1306.45" y="1139" textLength="42" lengthAdjust="spacingAndGlyphs">250</text>
</g>

<!-- C2 -->
<g transform="translate(217.2 1289.6) scale(4.357 -174.5)">
  <use href="#pC2" fill="#f8bb4b" clip-path="url(#cYc)"/>
  <use href="#pC2" fill="#d9622b" clip-path="url(#cOc)"/>
  <g fill="#62bb4a">
    <rect x="9.55" y=".02" width=".9" height=".01"/><rect x="12.05" y=".025" width=".9" height=".01"/>
    <rect x="14.55" y=".02" width=".9" height=".01"/><rect x="23.55" y=".035" width=".9" height=".015"/>
    <rect x="29.55" y=".06" width=".9" height=".03"/><rect x="37.55" y=".03" width=".9" height=".015"/>
    <rect x="45.55" y=".035" width=".9" height=".015"/><rect x="48.55" y=".03" width=".9" height=".01"/>
    <rect x="56.25" y=".03" width=".9" height=".015"/><rect x="65.05" y=".035" width=".9" height=".015"/>
    <rect x="67.35" y=".035" width=".9" height=".015"/><rect x="77.35" y=".025" width=".9" height=".015"/>
    <rect x="88.55" y=".035" width=".9" height=".015"/><rect x="91.25" y=".1" width=".9" height=".02"/>
    <rect x="92.25" y=".1" width=".9" height=".015"/><rect x="93.25" y=".07" width=".9" height=".015"/>
    <rect x="101.55" y=".07" width=".9" height=".02"/><rect x="113.65" y=".045" width=".9" height=".02"/>
    <rect x="120.55" y=".03" width=".9" height=".015"/><rect x="161.55" y=".092" width=".9" height=".028"/>
    <rect x="169.55" y=".03" width=".9" height=".01"/><rect x="171.55" y=".04" width=".9" height=".015"/>
    <rect x="176.55" y=".136" width=".9" height=".034"/><rect x="178.55" y=".04" width=".9" height=".015"/>
    <rect x="179.85" y=".045" width=".9" height=".015"/><rect x="181.25" y=".05" width=".9" height=".015"/>
    <rect x="187.45" y=".03" width=".9" height=".01"/><rect x="191.35" y=".03" width=".9" height=".01"/>
    <rect x="196.55" y=".13" width=".9" height=".04"/><rect x="202.55" y=".06" width=".9" height=".02"/>
    <rect x="213.55" y=".035" width=".9" height=".015"/><rect x="222.55" y=".035" width=".9" height=".015"/>
    <rect x="229.55" y=".035" width=".9" height=".01"/><rect x="238.55" y=".035" width=".9" height=".01"/>
    <rect x="241.55" y=".035" width=".9" height=".01"/><rect x="246.55" y=".055" width=".9" height=".015"/>
    <rect x="273.45" y=".04" width=".9" height=".02"/><rect x="279.85" y=".035" width=".9" height=".01"/>
    <rect x="283.55" y=".04" width=".9" height=".015"/><rect x="288.55" y=".04" width=".9" height=".02"/>
  </g>
  <use href="#pC2" fill="none" stroke="#111" stroke-width="1.8"/>
</g>
<use href="#frame" y="1153.3"/>
<rect x="612.6" y="1153.3" width="59.9" height="150.2" fill="none" stroke="#5b8ec6" stroke-width="3"/>
<rect x="862" y="1153.3" width="218" height="150.2" fill="none" stroke="#5b8ec6" stroke-width="3"/>
<text class="tt" x="223" y="1184" textLength="208" lengthAdjust="spacingAndGlyphs">V<tspan class="sub">H</tspan>1-72 intrinsic</text>
<text class="tt" x="223" y="1217" textLength="228" lengthAdjust="spacingAndGlyphs">mutation pattern</text>
<text class="yl" transform="translate(191.7 1289.6) rotate(-90)" text-anchor="middle" textLength="33" lengthAdjust="spacingAndGlyphs">0.0</text>
<text class="yl" transform="translate(191.7 1219.8) rotate(-90)" text-anchor="middle" textLength="33" lengthAdjust="spacingAndGlyphs">0.4</text>
<g class="tl" text-anchor="middle">
  <text x="435.05" y="1344.6" textLength="28.3" lengthAdjust="spacingAndGlyphs">50</text>
  <text x="652.9" y="1344.6" textLength="42" lengthAdjust="spacingAndGlyphs">100</text>
  <text x="870.75" y="1344.6" textLength="42" lengthAdjust="spacingAndGlyphs">150</text>
  <text x="1088.6" y="1344.6" textLength="42" lengthAdjust="spacingAndGlyphs">200</text>
  <text x="1306.45" y="1344.6" textLength="42" lengthAdjust="spacingAndGlyphs">250</text>
</g>
<line x1="1529.5" y1="1031.7" x2="1529.5" y2="1225" stroke="#777" stroke-width="1.5"/>
<text x="1545" y="1130.5" font-size="28" textLength="34" lengthAdjust="spacingAndGlyphs">ns</text>

</svg>
</body>
</html>
